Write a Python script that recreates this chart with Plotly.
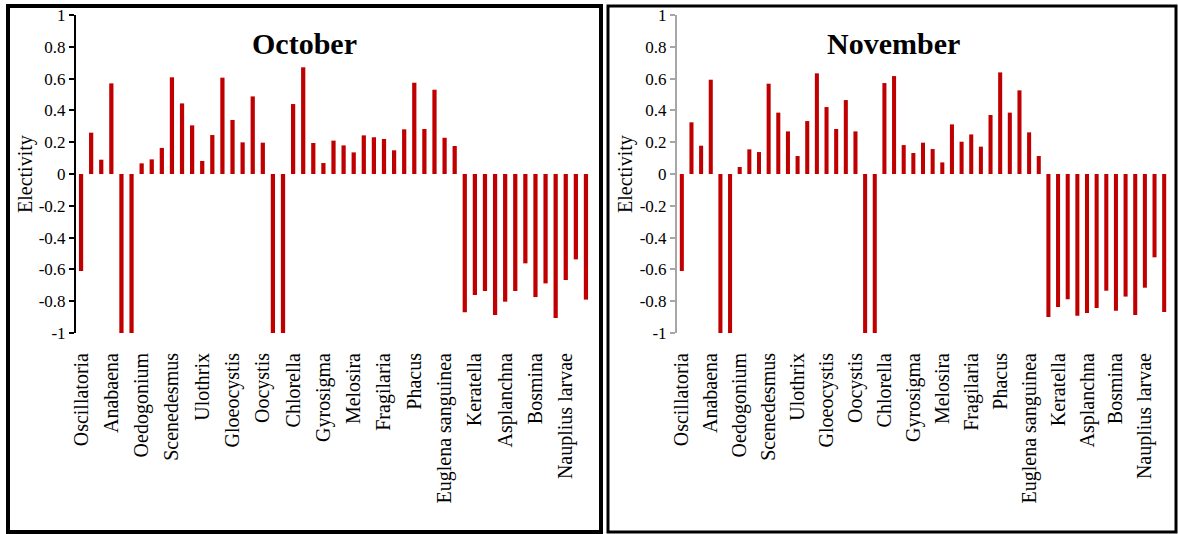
import plotly.graph_objects as go

# Figure size in pixels (used to place panels and frames)
W, H = 1178, 534

# Every third category is labelled on the x axis
label_positions = [0, 3, 6, 9, 12, 15, 18, 21, 24, 27, 30, 33, 36, 39, 42, 45, 48]
label_names = ["Oscillatoria", "Anabaena", "Oedogonium", "Scenedesmus", "Ulothrix",
               "Gloeocystis", "Oocystis", "Chlorella", "Gyrosigma", "Melosira",
               "Fragilaria", "Phacus", "Euglena sanguinea", "Keratella", "Asplanchna",
               "Bosmina", "Nauplius larvae"]

# Electivity index per food item
october = [-0.61, 0.26, 0.09, 0.57, -1.0, -1.0, 0.067, 0.092, 0.164, 0.608,
           0.444, 0.306, 0.082, 0.245, 0.606, 0.34, 0.199, 0.488, 0.197, -1.0,
           -1.0, 0.44, 0.671, 0.195, 0.069, 0.21, 0.18, 0.136, 0.243, 0.231,
           0.22, 0.149, 0.281, 0.574, 0.283, 0.53, 0.228, 0.176, -0.87, -0.761,
           -0.736, -0.887, -0.803, -0.736, -0.562, -0.774, -0.688, -0.906, -0.667, -0.537,
           -0.79]
november = [-0.61, 0.325, 0.178, 0.593, -1.0, -1.0, 0.044, 0.155, 0.138, 0.568,
            0.386, 0.268, 0.113, 0.333, 0.633, 0.421, 0.283, 0.465, 0.268, -1.0,
            -1.0, 0.572, 0.616, 0.182, 0.132, 0.197, 0.157, 0.073, 0.312, 0.203,
            0.249, 0.172, 0.371, 0.639, 0.386, 0.526, 0.262, 0.113, -0.899, -0.836,
            -0.788, -0.891, -0.874, -0.843, -0.734, -0.86, -0.771, -0.887, -0.715, -0.524,
            -0.868]

ytick_values = [-1, -0.8, -0.6, -0.4, -0.2, 0, 0.2, 0.4, 0.6, 0.8, 1]
ytick_text = ["-1", "-0.8", "-0.6", "-0.4", "-0.2", "0", "0.2", "0.4", "0.6", "0.8", "1"]

SERIF = "Liberation Serif, Times New Roman, serif"
BAR_COLOR = "#C00000"

n = len(october)
xs = list(range(n))
boundaries = [i - 0.5 for i in range(n + 1)]
xrange = [-0.5, n - 0.5]


def px_x(p):
    return p / W


def px_y(p):
    return 1 - p / H


ydom = [px_y(333), px_y(15)]
zero_pos = (ydom[0] + ydom[1]) / 2

fig = go.Figure()
fig.add_trace(go.Bar(x=xs, y=october, marker_color=BAR_COLOR, marker_line_width=0,
                     xaxis="x", yaxis="y", showlegend=False))
fig.add_trace(go.Bar(x=xs, y=november, marker_color=BAR_COLOR, marker_line_width=0,
                     xaxis="x2", yaxis="y2", showlegend=False))


def label_axis(domain):
    return dict(domain=domain, range=xrange, showline=False, showgrid=False, zeroline=False,
                automargin=False, tickmode="array", tickvals=label_positions,
                ticktext=label_names, tickangle=-90, ticks="outside", ticklen=11,
                tickcolor="rgba(0,0,0,0)",
                tickfont=dict(family=SERIF, size=20, color="black"))


def zero_axis(base, color, width):
    return dict(overlaying=base, anchor="free", position=zero_pos, range=xrange,
                showline=True, linecolor=color, linewidth=width, showgrid=False,
                zeroline=False, automargin=False, tickmode="array", tickvals=boundaries,
                ticks="outside", ticklen=5, tickwidth=width, tickcolor=color,
                showticklabels=False)


def value_axis(anchor, color, width):
    return dict(domain=ydom, anchor=anchor, range=[-1, 1], showline=True, linecolor=color,
                linewidth=width, showgrid=False, zeroline=False, automargin=False,
                tickmode="array", tickvals=ytick_values, ticktext=ytick_text,
                ticks="outside", ticklen=5, tickwidth=width, tickcolor=color,
                tickfont=dict(family=SERIF, size=17, color="black"))


oct_dom = [px_x(76), px_x(591)]
nov_dom = [px_x(677), px_x(1169)]

fig.update_layout(
    width=W, height=H, autosize=False,
    font=dict(family=SERIF, size=17, color="black"),
    margin=dict(l=0, r=0, t=0, b=0, pad=0),
    paper_bgcolor="white", plot_bgcolor="white",
    bargap=0.58,
    xaxis=dict(anchor="y", **label_axis(oct_dom)),
    xaxis2=dict(anchor="y2", **label_axis(nov_dom)),
    xaxis3=zero_axis("x", "black", 2),
    xaxis4=zero_axis("x2", "#A6A6A6", 2),
    yaxis=value_axis("x", "black", 2),
    yaxis2=value_axis("x2", "#A6A6A6", 2),
)

# Panel titles and axis titles
fig.add_annotation(x=px_x(304), y=px_y(44), xref="paper", yref="paper", text="<b>October</b>",
                   xanchor="center", yanchor="middle", showarrow=False,
                   font=dict(family=SERIF, size=30, color="black"))
fig.add_annotation(x=px_x(893), y=px_y(44), xref="paper", yref="paper", text="<b>November</b>",
                   xanchor="center", yanchor="middle", showarrow=False,
                   font=dict(family=SERIF, size=30, color="black"))
for xc in (25, 625):
    fig.add_annotation(x=px_x(xc), y=px_y(174), xref="paper", yref="paper", text="Electivity",
                       xanchor="center", yanchor="middle", textangle=-90, showarrow=False,
                       font=dict(family=SERIF, size=20, color="black"))

# Frames around each panel
fig.add_shape(type="rect", xref="paper", yref="paper",
              x0=px_x(8), x1=px_x(601), y0=px_y(532), y1=px_y(6),
              line=dict(color="black", width=4))
fig.add_shape(type="rect", xref="paper", yref="paper",
              x0=px_x(608), x1=px_x(1176), y0=px_y(532), y1=px_y(6),
              line=dict(color="black", width=3))

fig.write_html("out.html")
